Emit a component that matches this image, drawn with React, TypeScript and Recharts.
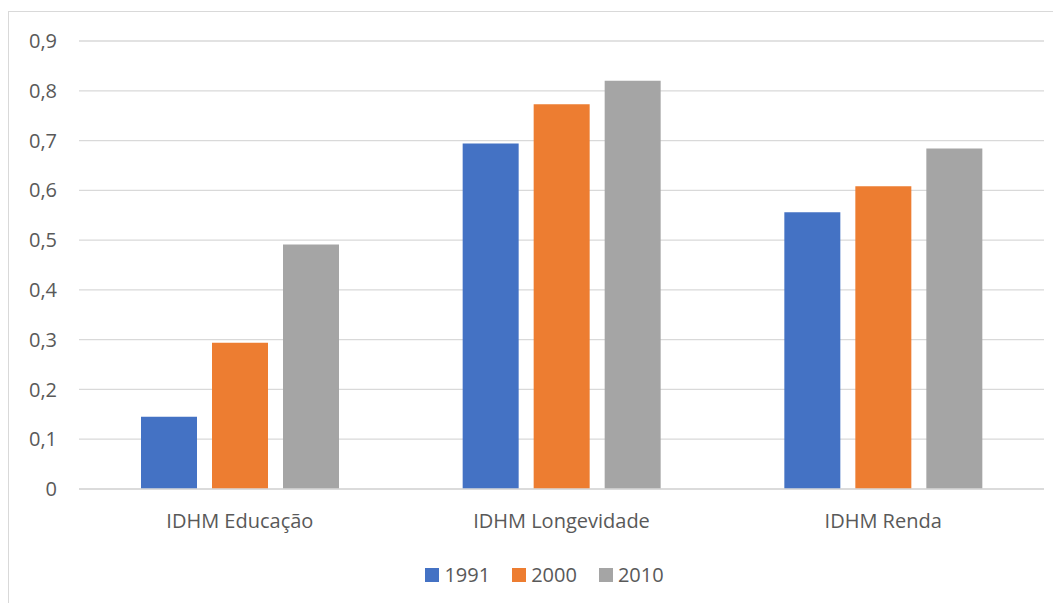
import { BarChart, Bar, XAxis, YAxis, CartesianGrid, Legend } from 'recharts'

const categories = ['IDHM Educação', 'IDHM Longevidade', 'IDHM Renda']
const idhm1991 = [0.145, 0.694, 0.556]
const idhm2000 = [0.294, 0.773, 0.608]
const idhm2010 = [0.491, 0.82, 0.684]
const yTicks = [0, 0.1, 0.2, 0.3, 0.4, 0.5, 0.6, 0.7, 0.8, 0.9]

const series = [
  { key: 'y1991', name: '1991', color: '#4472C4' },
  { key: 'y2000', name: '2000', color: '#ED7D31' },
  { key: 'y2010', name: '2010', color: '#A5A5A5' },
]

const data = categories.map((name, i) => ({
  name,
  y1991: idhm1991[i],
  y2000: idhm2000[i],
  y2010: idhm2010[i],
}))

const textColor = '#595959'
const gridColor = '#D9D9D9'
const font = '"Open Sans", sans-serif'

function formatTick(v: number) {
  return v === 0 ? '0' : v.toFixed(1).replace('.', ',')
}

function LegendContent(props: { payload?: { value: string; color: string }[] }) {
  const items = props.payload ?? []
  return (
    <div
      style={{
        display: 'flex',
        justifyContent: 'center',
        paddingLeft: 36,
        fontFamily: font,
        fontSize: 20,
        color: textColor,
      }}
    >
      {items.map((it) => (
        <div key={it.value} style={{ display: 'flex', alignItems: 'center', margin: '0 11px' }}>
          <span style={{ display: 'inline-block', width: 14, height: 14, background: it.color, marginRight: 5 }} />
          <span>{it.value}</span>
        </div>
      ))}
    </div>
  )
}

export default function App() {
  return (
    <div style={{ marginTop: 3, width: 1060, height: 600, border: `1px solid ${gridColor}`, background: '#fff' }}>
      <BarChart
        width={1052}
        height={591}
        data={data}
        margin={{ top: 29, right: 17, left: 0, bottom: 18 }}
        barSize={56}
        barGap={15}
      >
        <CartesianGrid vertical={false} stroke={gridColor} strokeWidth={1.3} />
        <XAxis
          dataKey="name"
          axisLine={{ stroke: gridColor, strokeWidth: 1.3 }}
          tickLine={false}
          tickSize={0}
          tickMargin={25}
          height={72}
          tick={{ fill: textColor, fontSize: 20, fontFamily: font }}
        />
        <YAxis
          domain={[0, 0.9]}
          ticks={yTicks}
          tickFormatter={formatTick}
          axisLine={false}
          tickLine={false}
          tickSize={0}
          tickMargin={22}
          width={70}
          tick={{ fill: textColor, fontSize: 20, fontFamily: font }}
        />
        <Legend verticalAlign="bottom" height={24} content={<LegendContent />} />
        {series.map((s) => (
          <Bar key={s.key} dataKey={s.key} name={s.name} fill={s.color} isAnimationActive={false} />
        ))}
      </BarChart>
    </div>
  )
}
